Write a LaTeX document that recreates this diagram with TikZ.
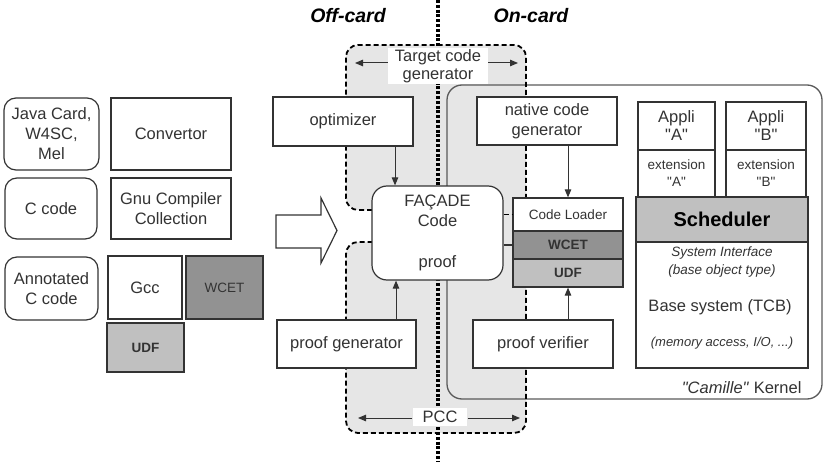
\documentclass[tikz,border=0pt]{standalone}
\usepackage{fontspec}
\setmainfont{Liberation Sans}
\usetikzlibrary{arrows.meta}

\definecolor{linegray}{HTML}{333333}
\definecolor{regiongray}{HTML}{E6E6E6}
\definecolor{darkcell}{HTML}{929292}
\definecolor{lightcell}{HTML}{C0C0C0}
\definecolor{kernelgray}{HTML}{5A5A5A}

\begin{document}
\begin{tikzpicture}[x=1pt, y=-1pt,
  font=\fontsize{16.5}{20}\selectfont, text=linegray,
  >={Triangle[length=8pt,width=6.5pt]},
  box/.style={draw=linegray, line width=1.2pt, fill=white, align=center, inner sep=0pt},
  roundbox/.style={box, rounded corners=12pt},
  sz/.style 2 args={minimum width=#1pt, minimum height=#2pt},
  smalltext/.style={font=\fontsize{13.5}{17}\selectfont},
  smallbold/.style={font=\fontsize{13.5}{17}\selectfont\bfseries},
  regionline/.style={line width=1.8pt, dash pattern=on 5pt off 3pt, black},
  arr/.style={->, line width=1pt, linegray},
  sidetitle/.style={font=\fontsize{19.5}{22}\selectfont\bfseries\itshape, text=black}
]
  \useasboundingbox (0,0) rectangle (830,468);

  % Target code generator / PCC region
  \fill[regiongray, rounded corners=12pt] (390,210) -- (346,210) -- (346,45) -- (526,45)
    -- (526,433) -- (346,433) -- (346,242) -- (390,242) -- cycle;

  % Kernel frame
  \node[draw=kernelgray, line width=1.3pt, rounded corners=15pt, sz={375}{314}] (kernel) at (634.5,242) {};
  \node[anchor=east] (kernellabel) at (805,388) {\textit{\textquotedbl Camille\textquotedbl} Kernel};

  % Dashed outline
  \draw[regionline, rounded corners=12pt] (372,210) -- (346,210) -- (346,45) -- (526,45)
    -- (526,433) -- (346,433) -- (346,242) -- (372,242);

  % Off-card / on-card border
  \draw[line width=3.5pt, dash pattern=on 3pt off 1.8pt, black] (438,0) -- (438,462);
  \node[sidetitle] (offcard) at (348,16) {Off-card};
  \node[sidetitle] (oncard) at (531,16) {On-card};

  % Region labels
  \node[fill=white, align=center, inner xsep=7pt, inner ysep=1pt, font=\fontsize{16.5}{18}\selectfont] (tcg) at (438,66) {Target code\\generator};
  \coordinate (tcgl) at (355,63);
  \coordinate (tcgr) at (518,63);
  \draw[arr] (tcg.west |- tcgl) -- (tcgl);
  \draw[arr] (tcg.east |- tcgr) -- (tcgr);

  \node[fill=white, inner xsep=10pt, inner ysep=3pt] (pcc) at (440,417) {PCC};
  \coordinate (pccl) at (358,418);
  \coordinate (pccr) at (520,418);
  \draw[arr] (pcc.west |- pccl) -- (pccl);
  \draw[arr] (pcc.east |- pccr) -- (pccr);

  % Source languages and compilers
  \node[roundbox, sz={95}{72}] (java) at (51.5,134) {Java Card,\\W4SC,\\Mel};
  \node[box, sz={120}{72}] (conv) at (171,134) {Convertor};
  \node[roundbox, sz={92}{61}] (ccode) at (51,208.5) {C code};
  \node[box, sz={120}{61}] (gnu) at (171,208.5) {Gnu Compiler\\Collection};
  \node[roundbox, sz={93}{63}] (annot) at (51.5,288.5) {Annotated\\C code};
  \node[box, sz={74}{63}] (gcc) at (145,287.5) {Gcc};
  \node[box, smalltext, fill=darkcell, sz={77}{63}] (wcetl) at (224.5,287.5) {WCET};
  \node[box, smallbold, fill=lightcell, sz={77}{49}] (udfl) at (145.5,347.5) {UDF};

  % Big open arrow
  \draw[line width=1.2pt, linegray, fill=white] (276,215) -- (321,215) -- (321,198) -- (337,230.5)
    -- (321,263) -- (321,248) -- (276,248) -- cycle;

  % Off-card tools
  \node[box, sz={140}{49}] (opt) at (343,121.5) {optimizer};
  \node[box, sz={139}{48}] (pgen) at (346.5,344) {proof generator};
  \node[roundbox, rounded corners=15pt, sz={131}{94}] (facade) at (437.5,233) {FAÇADE\\Code\\[21pt]proof};

  % On-card tools
  \node[box, sz={140}{48}] (ncg) at (547,121) {native code\\generator};
  \node[box, sz={140}{48}] (pver) at (543,344) {proof verifier};
  \node[box, smalltext, sz={110}{33}] (loader) at (568,214.5) {Code Loader};
  \node[box, smallbold, fill=darkcell, sz={110}{28}] (wcetr) at (568,245) {WCET};
  \node[box, smallbold, fill=lightcell, sz={110}{28}] (udfr) at (568,273) {UDF};

  \draw[regionline] (facade.east |- loader.west) -- (loader.west);
  \draw[line width=1.2pt, linegray] (facade.east |- wcetr.west) -- (wcetr.west);

  % Kernel contents
  \node[box, font=\fontsize{16.5}{18}\selectfont, sz={77}{48}] (appa) at (676.5,126) {Appli\\\textquotedbl A\textquotedbl};
  \node[box, font=\fontsize{16.5}{18}\selectfont, sz={80}{48}] (appb) at (766,126) {Appli\\\textquotedbl B\textquotedbl};
  \node[box, smalltext, sz={77}{47}] (exta) at (676.5,173.5) {extension\\\textquotedbl A\textquotedbl};
  \node[box, smalltext, sz={80}{47}] (extb) at (766,173.5) {extension\\\textquotedbl B\textquotedbl};
  \node[box, fill=lightcell, font=\fontsize{20}{22}\selectfont\bfseries, text=black, sz={172}{45}] (sched) at (722,219.5) {Scheduler};
  \node[box, sz={172}{126}] (base) at (722,305) {};
  \node[align=center, font=\fontsize{13.5}{18}\selectfont\itshape] (sysif) at (722,262) {System Interface\\(base object type)};
  \node (tcb) at (720,307) {Base system (TCB)};
  \node[font=\fontsize{13}{15}\selectfont\itshape] (memacc) at (722,343) {(memory access, I/O, ...)};

  % Flows
  \draw[arr] ([xshift=52pt]opt.south) -- ([xshift=52pt]opt.south |- facade.north);
  \draw[arr] ([xshift=49.5pt]pgen.north) -- ([xshift=49.5pt]pgen.north |- facade.south);
  \draw[arr] (ncg.south -| loader.north) -- (loader.north);
  \draw[arr] (pver.north -| udfr.south) -- (udfr.south);

\end{tikzpicture}
\end{document}
